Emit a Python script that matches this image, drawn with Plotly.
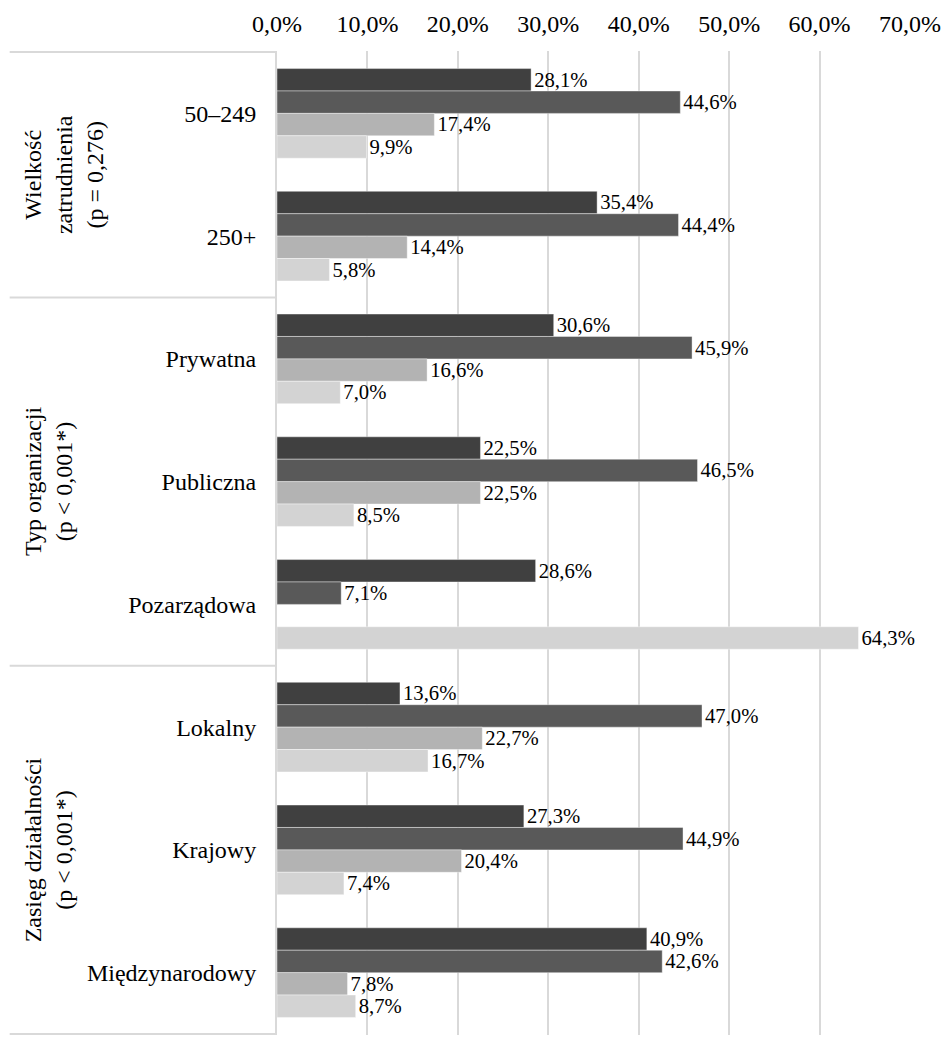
import plotly.graph_objects as go

categories = ["50–249", "250+", "Prywatna", "Publiczna", "Pozarządowa",
              "Lokalny", "Krajowy", "Międzynarodowy"]

series_a = [28.1, 35.4, 30.6, 22.5, 28.6, 13.6, 27.3, 40.9]
series_b = [44.6, 44.4, 45.9, 46.5, 7.1, 47.0, 44.9, 42.6]
series_c = [17.4, 14.4, 16.6, 22.5, None, 22.7, 20.4, 7.8]
series_d = [9.9, 5.8, 7.0, 8.5, 64.3, 16.7, 7.4, 8.7]

series_colors = ["#404040", "#595959", "#b3b3b3", "#d3d3d3"]

tick_vals = [0, 10, 20, 30, 40, 50, 60, 70]
tick_text = ["0,0%", "10,0%", "20,0%", "30,0%", "40,0%", "50,0%", "60,0%", "70,0%"]

groups = [
    ("Wielkość<br>zatrudnienia<br>(p = 0,276)", -0.5, 1.5),
    ("Typ organizacji<br>(p < 0,001*)", 1.5, 4.5),
    ("Zasięg działalności<br>(p < 0,001*)", 4.5, 7.5),
]

FONT = "Liberation Serif"
FS = 24
W, H = 945, 1039
ML, MR, MT, MB = 277, 31, 51, 4
plot_w = W - ML - MR


def fmt(v):
    return "" if v is None else f"{v:.1f}".replace(".", ",") + "%"


fig = go.Figure()
for vals, col in zip([series_a, series_b, series_c, series_d], series_colors):
    fig.add_trace(go.Bar(
        y=categories, x=vals, orientation="h",
        marker=dict(color=col, line=dict(color="rgba(255,255,255,0.5)", width=0.8)),
        text=[fmt(v) for v in vals], textposition="outside",
        textfont=dict(family=FONT, size=FS, color="#000000"),
        cliponaxis=False, hoverinfo="skip", showlegend=False,
    ))

# left-hand table frame: lines separating the variable groups
left_edge = -(ML - 8) / plot_w
for _, y0, y1 in groups:
    if y0 == -0.5:
        fig.add_shape(type="line", xref="paper", yref="y", x0=left_edge, x1=0,
                      y0=y0, y1=y0, line=dict(color="#d9d9d9", width=2), layer="below")
    fig.add_shape(type="line", xref="paper", yref="y", x0=left_edge, x1=0,
                  y0=y1, y1=y1, line=dict(color="#d9d9d9", width=2), layer="below")

# rotated group titles
group_x = [62, 47, 47]
for (label, y0, y1), gx in zip(groups, group_x):
    fig.add_annotation(
        text=label, xref="paper", yref="y",
        x=-(ML - gx) / plot_w, y=(y0 + y1) / 2,
        textangle=-90, showarrow=False, xanchor="center", yanchor="middle",
        font=dict(family=FONT, size=FS, color="#000000"), align="center",
    )

fig.update_layout(
    width=W, height=H,
    margin=dict(l=ML, r=MR, t=MT, b=MB),
    barmode="group", bargap=0.27, bargroupgap=0,
    plot_bgcolor="#ffffff", paper_bgcolor="#ffffff",
    font=dict(family=FONT, size=FS, color="#000000"),
)
fig.update_xaxes(
    side="top", range=[0, 70], tickvals=tick_vals, ticktext=tick_text,
    showgrid=True, gridcolor="#d9d9d9", gridwidth=2, zeroline=False,
    showline=False, ticks="", tickfont=dict(family=FONT, size=FS),
    ticklabelstandoff=13,
)
fig.update_yaxes(
    autorange="reversed", showgrid=False, zeroline=False,
    showline=True, linecolor="#d9d9d9", linewidth=2,
    ticks="", tickfont=dict(family=FONT, size=FS), ticklabelstandoff=14,
)

fig.write_html("out.html")
